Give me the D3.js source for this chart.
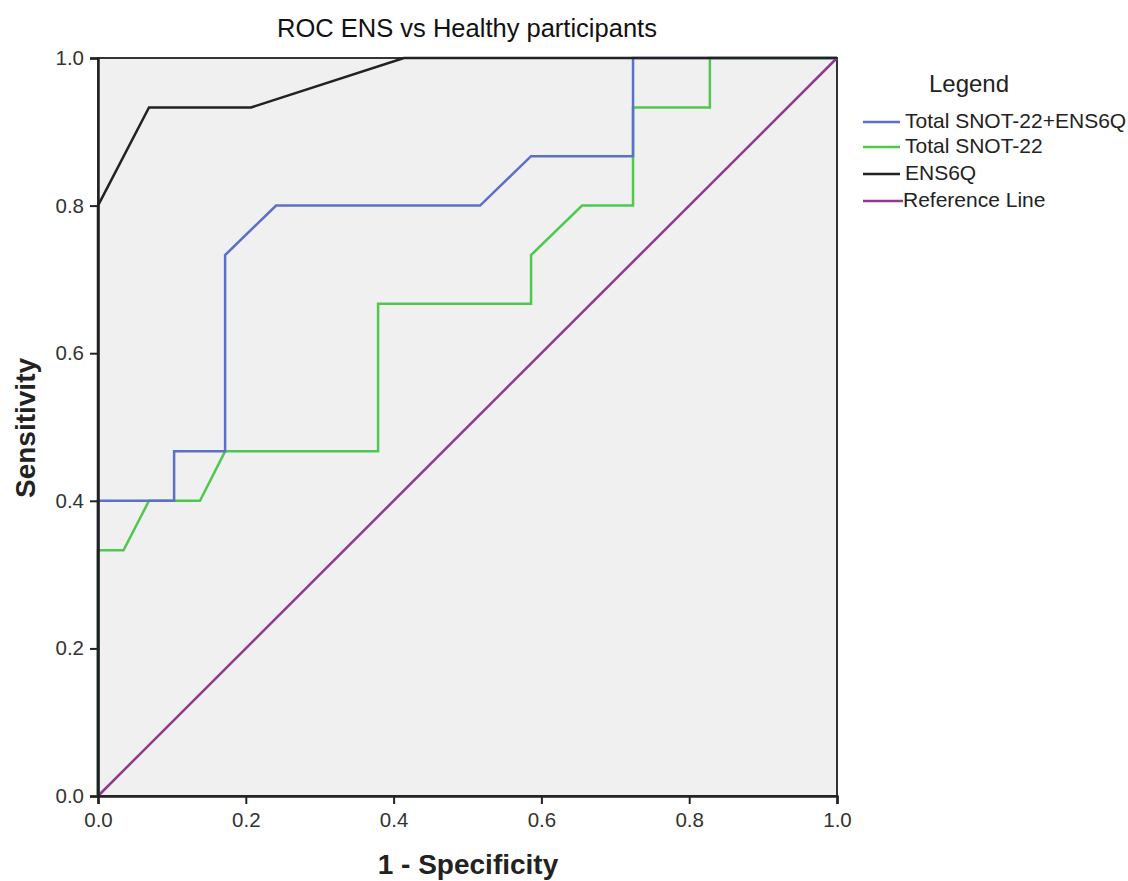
<!DOCTYPE html>
<html>
<head>
<meta charset="utf-8">
<script src="https://cdn.jsdelivr.net/npm/d3@7"></script>
<style>
  body { margin: 0; background: #fff; }
  text { font-family: "Liberation Sans", Arial, sans-serif; }
</style>
</head>
<body>
<div id="chart"></div>
<script>
// ROC curve data (1 - specificity, sensitivity)
const seriesNames = ['Total SNOT-22+ENS6Q', 'Total SNOT-22', 'ENS6Q', 'Reference Line'];

const combinedX = [0, 0, 0.103, 0.103, 0.172, 0.172, 0.241, 0.517, 0.586, 0.724, 0.724, 1];
const combinedY = [0, 0.4, 0.4, 0.467, 0.467, 0.733, 0.8, 0.8, 0.867, 0.867, 1, 1];

const snotX = [0, 0, 0.0345, 0.069, 0.138, 0.172, 0.379, 0.379, 0.586, 0.586, 0.655, 0.724, 0.724, 0.828, 0.828, 1];
const snotY = [0, 0.333, 0.333, 0.4, 0.4, 0.467, 0.467, 0.667, 0.667, 0.733, 0.8, 0.8, 0.933, 0.933, 1, 1];

const ens6qX = [0, 0, 0.069, 0.207, 0.414, 1];
const ens6qY = [0, 0.8, 0.933, 0.933, 1, 1];

const refX = [0, 1];
const refY = [0, 1];

const ticks = [0, 0.2, 0.4, 0.6, 0.8, 1.0];

// style configs
const colors = ['#5b70c6', '#4ec94e', '#222222', '#8e3a8e'];
const width = 1128;
const height = 881;
const plot = { left: 98, top: 58, right: 837, bottom: 796 };

const x = d3.scaleLinear().domain([0, 1]).range([plot.left, plot.right]);
const y = d3.scaleLinear().domain([0, 1]).range([plot.bottom, plot.top]);

const svg = d3.select('#chart').append('svg')
  .attr('width', width)
  .attr('height', height);

svg.append('rect')
  .attr('x', plot.left)
  .attr('y', plot.top)
  .attr('width', plot.right - plot.left)
  .attr('height', plot.bottom - plot.top)
  .attr('fill', '#f0f0f0')
  .attr('stroke', '#333')
  .attr('stroke-width', 2);

const series = [
  { xs: combinedX, ys: combinedY },
  { xs: snotX, ys: snotY },
  { xs: ens6qX, ys: ens6qY },
  { xs: refX, ys: refY }
];

const line = d3.line()
  .x(d => x(d[0]))
  .y(d => y(d[1]));

// reference first, then curves (black on top)
const order = [3, 1, 0, 2];
order.forEach(i => {
  const s = series[i];
  svg.append('path')
    .datum(d3.zip(s.xs, s.ys))
    .attr('d', line)
    .attr('fill', 'none')
    .attr('stroke', colors[i])
    .attr('stroke-width', 2.5);
});

// axes
const xAxis = svg.append('g')
  .attr('transform', `translate(0,${plot.bottom})`)
  .call(d3.axisBottom(x).tickValues(ticks).tickFormat(d3.format('.1f')).tickSize(8).tickPadding(8));

const yAxis = svg.append('g')
  .attr('transform', `translate(${plot.left},0)`)
  .call(d3.axisLeft(y).tickValues(ticks).tickFormat(d3.format('.1f')).tickSize(8).tickPadding(6));

[xAxis, yAxis].forEach(a => {
  a.attr('font-size', 20.5);
  a.select('.domain').attr('stroke', '#222').attr('stroke-width', 2.5);
  a.selectAll('.tick line').attr('stroke', '#222').attr('stroke-width', 2);
  a.selectAll('.tick text')
    .attr('fill', '#333')
    .style('font-size', '20.5px')
    .style('font-family', '"Liberation Sans", Arial, sans-serif');
});

// title and axis labels
svg.append('text')
  .attr('x', 467)
  .attr('y', 37)
  .attr('text-anchor', 'middle')
  .style('font-size', '25.5px')
  .attr('fill', '#111')
  .text('ROC ENS vs Healthy participants');

svg.append('text')
  .attr('x', 468)
  .attr('y', 874)
  .attr('text-anchor', 'middle')
  .style('font-size', '28px')
  .style('font-weight', 'bold')
  .attr('fill', '#222')
  .text('1 - Specificity');

svg.append('text')
  .attr('transform', `translate(35,428) rotate(-90)`)
  .attr('text-anchor', 'middle')
  .style('font-size', '28px')
  .style('font-weight', 'bold')
  .attr('fill', '#222')
  .text('Sensitivity');

// legend
const legend = svg.append('g').attr('transform', 'translate(863,0)');

legend.append('text')
  .attr('x', 106)
  .attr('y', 92)
  .attr('text-anchor', 'middle')
  .style('font-size', '24px')
  .attr('fill', '#222')
  .text('Legend');

const legendY = [122, 147, 174, 201];
seriesNames.forEach((name, i) => {
  legend.append('line')
    .attr('x1', 0)
    .attr('x2', i === 3 ? 40 : 37)
    .attr('y1', legendY[i])
    .attr('y2', legendY[i])
    .attr('stroke', colors[i])
    .attr('stroke-width', 2.5);
  legend.append('text')
    .attr('x', i === 3 ? 40 : 42)
    .attr('y', legendY[i] + 6)
    .style('font-size', '21px')
    .attr('fill', '#222')
    .text(name);
});
</script>
</body>
</html>
